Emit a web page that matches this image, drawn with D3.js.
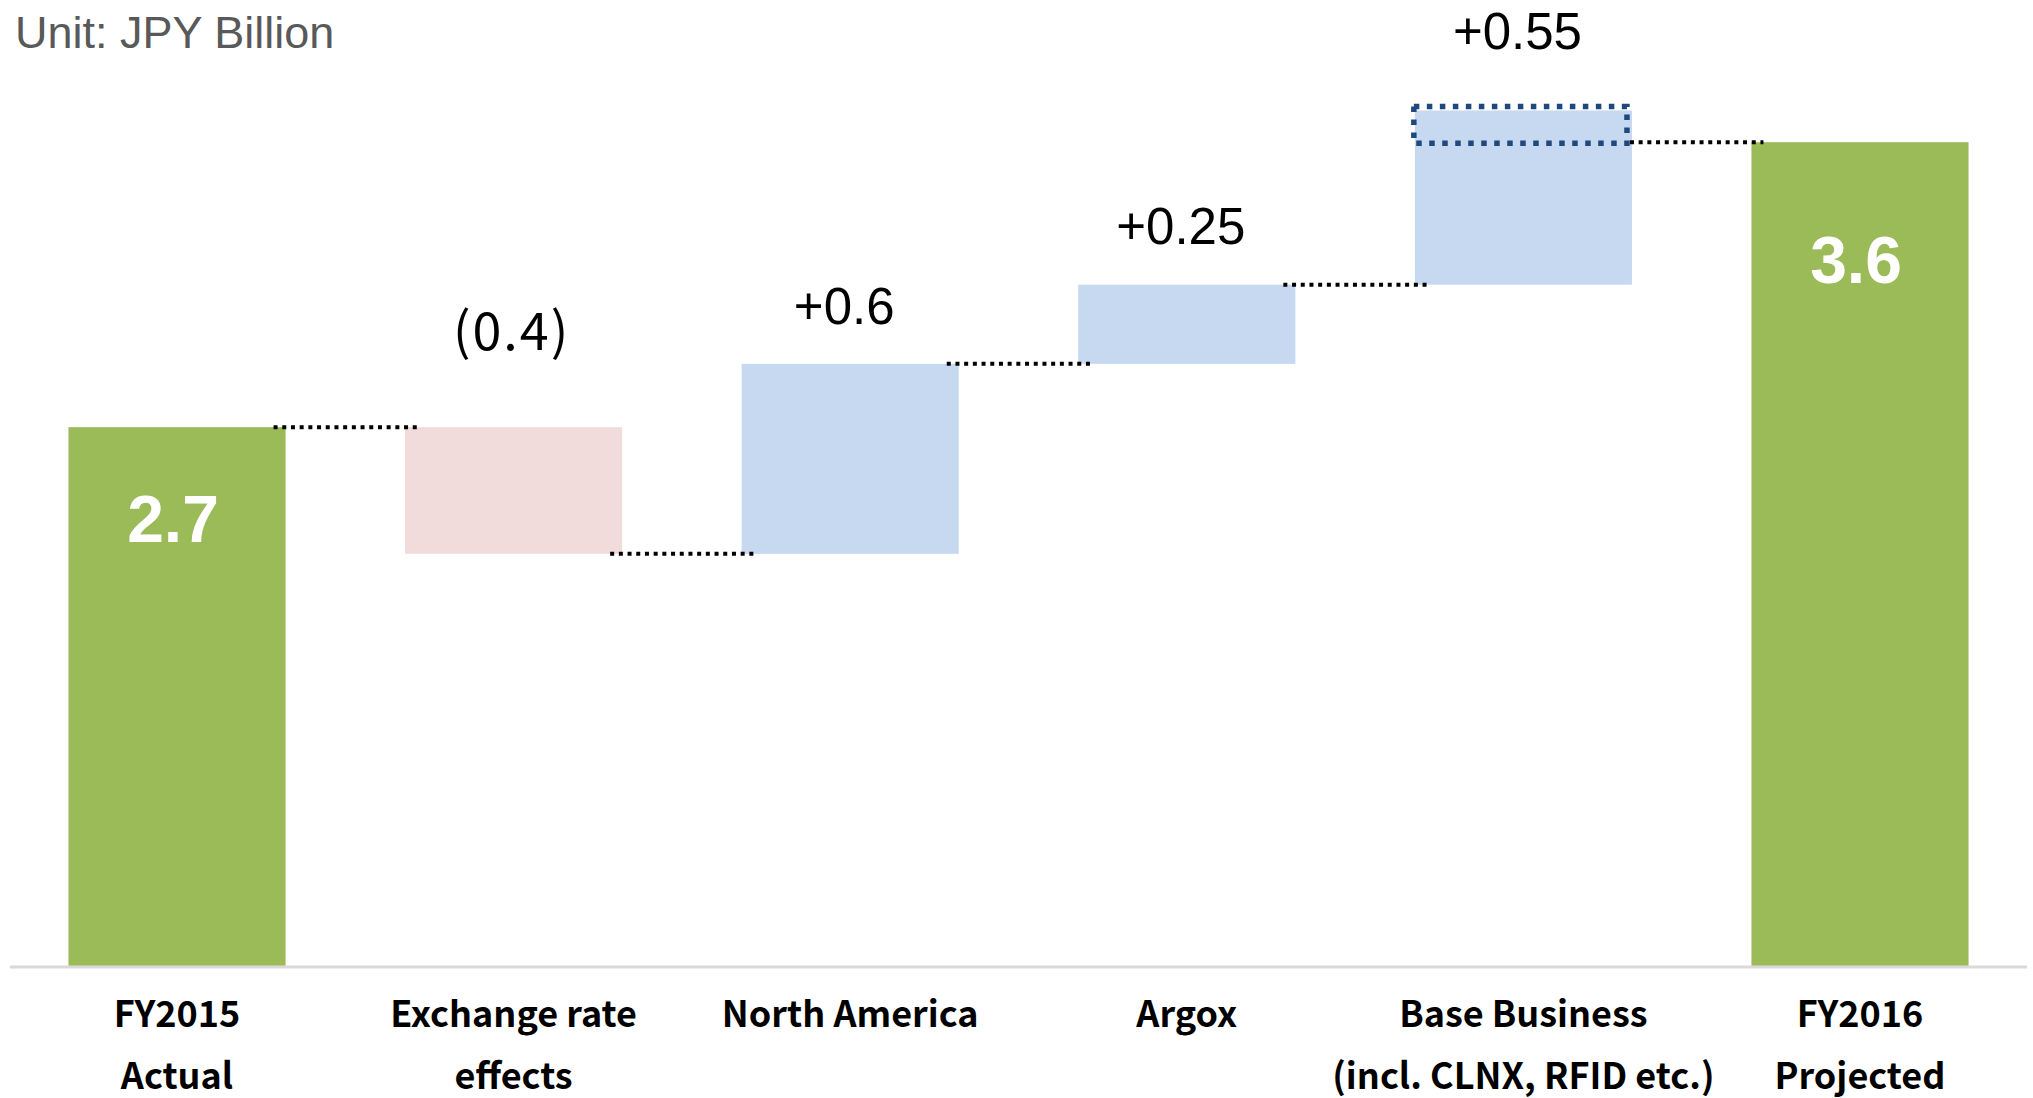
<!DOCTYPE html>
<html>
<head>
<meta charset="utf-8">
<script src="https://cdn.jsdelivr.net/npm/d3@7"></script>
<style>
  html, body { margin: 0; padding: 0; background: #ffffff; }
  svg { display: block; }
</style>
</head>
<body>
<svg id="chart" width="2033" height="1098"></svg>
<script>
// Operating income bridge, FY2015 actual to FY2016 projection (JPY billion)
const categories = [
  ["FY2015", "Actual"],
  ["Exchange rate", "effects"],
  ["North America"],
  ["Argox"],
  ["Base Business", "(incl. CLNX, RFID etc.)"],
  ["FY2016", "Projected"]
];
// "total" bars stand on the axis; "delta" bars float from the running total
const kinds = ["total", "delta", "delta", "delta", "delta", "total"];
const values = [2.7, -0.4, 0.6, 0.25, 0.55, 3.6];
const valueLabels = ["2.7", "(0.4)", "+0.6", "+0.25", "+0.55", "3.6"];
const unitLabel = "Unit: JPY Billion";

// Build the waterfall segments
let running = 0;
const segs = values.map((v, i) => {
  let lo, hi, end;
  if (kinds[i] === "total") {
    lo = null; hi = v; end = v;
  } else {
    const start = running;
    end = start + v;
    lo = Math.min(start, end); hi = Math.max(start, end);
  }
  running = end;
  return { i, v, kind: kinds[i], lo, hi, end };
});

const svg = d3.select("#chart");

const x = d3.scaleBand()
  .domain(d3.range(categories.length))
  .range([8.7, 2028.3])
  .paddingInner(0.355)
  .paddingOuter(0.1775);

// The value axis starts at 1.0 so the steps read clearly
const y = d3.scaleLinear().domain([1, 4]).range([965.5, 15.5]);
const base = y.domain()[0];

const colors = { total: "#9BBB59", up: "#C6D9F1", down: "#F2DCDB" };
const bw = x.bandwidth();

// Bars
svg.append("g").selectAll("rect")
  .data(segs)
  .join("rect")
  .attr("x", d => x(d.i))
  .attr("width", bw)
  .attr("y", d => y(d.hi))
  .attr("height", d => d.kind === "total" ? y(base) - y(d.hi) + 2 : y(d.lo) - y(d.hi))
  .attr("fill", d => d.kind === "total" ? colors.total : (d.v < 0 ? colors.down : colors.up));

// Axis line
svg.append("line")
  .attr("x1", 10).attr("x2", 2027)
  .attr("y1", y(base) + 1.5).attr("y2", y(base) + 1.5)
  .attr("stroke", "#D9D9D9").attr("stroke-width", 3);

// Overshoot of the cumulative steps above the projected total
const last = segs[segs.length - 1];
const prev = segs[segs.length - 2];
const overshoot = { top: prev.end, bottom: last.end, i: prev.i };
svg.append("rect")
  .attr("x", x(overshoot.i) - 1)
  .attr("y", y(overshoot.top) - 4)
  .attr("width", bw - 4)
  .attr("height", y(overshoot.bottom) - y(overshoot.top) + 5)
  .attr("fill", "none")
  .attr("stroke", "#1F497D")
  .attr("stroke-width", 5.5)
  .attr("stroke-dasharray", "5.5 7.5");

// Dotted connectors between neighbouring bars
const connectors = segs.slice(0, -1).map((d, k) => {
  const level = d.end;
  const isLast = k === segs.length - 2;
  return {
    x1: isLast ? x(d.i) + bw - 2 : x(d.i) + bw - 12,
    x2: x(d.i + 1) + 12,
    y: y(isLast ? last.end : level)
  };
});
svg.append("g").selectAll("line")
  .data(connectors)
  .join("line")
  .attr("x1", d => d.x1).attr("x2", d => d.x2)
  .attr("y1", d => d.y).attr("y2", d => d.y)
  .attr("stroke", "#000")
  .attr("stroke-width", 4)
  .attr("stroke-dasharray", "4 4.7");

// Value labels
const labelShift = [115, -77, -40, -41, -62, 141];
svg.append("g").selectAll("text")
  .data(segs)
  .join("text")
  .attr("x", d => x(d.i) + bw / 2 - (d.kind === "total" ? 4 : (d.v < 0 ? 2 : 6)))
  .attr("y", d => y(d.hi) + labelShift[d.i])
  .attr("text-anchor", "middle")
  .attr("font-family", d => d.v < 0 ? "'Noto Sans CJK JP', 'Noto Sans', sans-serif" : "'Liberation Sans', Arial, sans-serif")
  .attr("font-weight", d => d.kind === "total" ? "bold" : "normal")
  .attr("font-size", d => d.kind === "total" ? 66 : (d.v < 0 ? 52 : 51))
  .attr("letter-spacing", d => d.v < 0 ? 2 : 0)
  .attr("fill", d => d.kind === "total" ? "#ffffff" : "#000000")
  .text(d => valueLabels[d.i]);

// Category labels
const cat = svg.append("g").selectAll("text")
  .data(categories)
  .join("text")
  .attr("text-anchor", "middle")
  .attr("font-family", "'Noto Sans CJK JP', 'Noto Sans', sans-serif")
  .attr("font-weight", "bold")
  .attr("font-size", 36)
  .attr("fill", "#000");
cat.selectAll("tspan")
  .data((d, i) => d.map((line, j) => ({ line, j, i })))
  .join("tspan")
  .attr("x", d => x(d.i) + bw / 2)
  .attr("y", d => 1027 + d.j * 62)
  .text(d => d.line);

// Unit note
svg.append("text")
  .attr("x", 15).attr("y", 48)
  .attr("font-family", "'Liberation Sans', Arial, sans-serif")
  .attr("font-size", 45)
  .attr("fill", "#595959")
  .text(unitLabel);
</script>
</body>
</html>
